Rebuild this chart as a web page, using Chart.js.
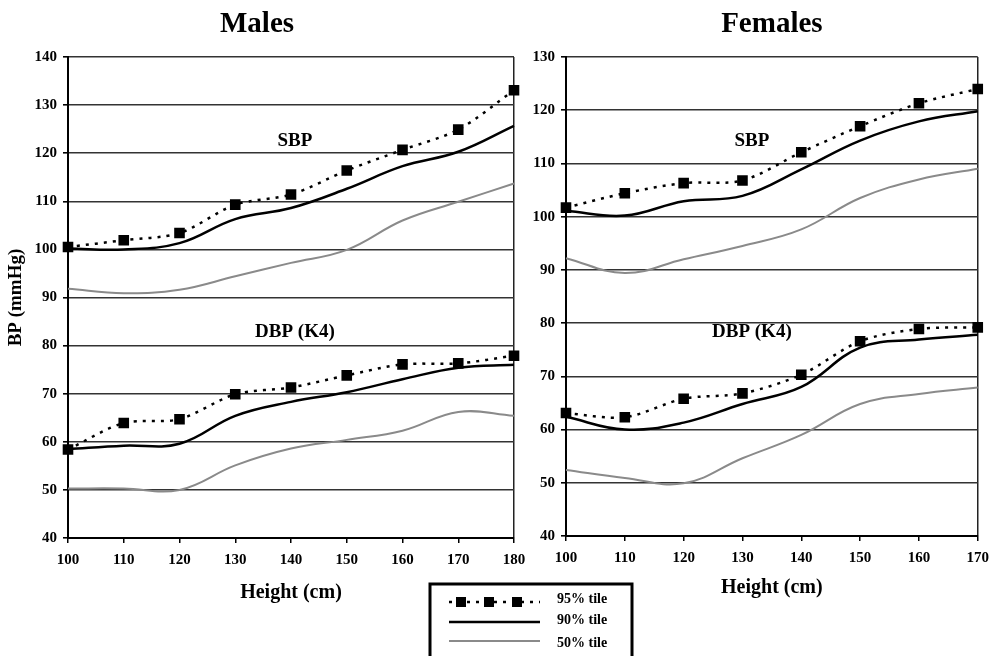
<!DOCTYPE html>
<html lang="en">
<head>
<meta charset="UTF-8">
<title>BP percentiles by height</title>
<script src="https://cdn.jsdelivr.net/npm/chart.js"></script>
<style>
    body {
        margin: 0;
        background: #fff;
    }
    .wrap {
        position: relative;
        width: 997px;
        height: 656px;
        overflow: hidden;
    }
    canvas {
        position: absolute;
        top: 0;
    }
    #males { left: 0; }
    #females { left: 420px; }
</style>
</head>
<body>
<div class="wrap">
    <canvas id="males" width="540" height="656"></canvas>
    <canvas id="females" width="577" height="656"></canvas>
</div>

<script>
    // Height (cm) on the x axis
    const maleHeights = [100, 110, 120, 130, 140, 150, 160, 170, 180];
    const femaleHeights = [100, 110, 120, 130, 140, 150, 160, 170];

    // Males, systolic and diastolic (mmHg)
    const maleSbp95 = [100.5, 101.9, 103.4, 109.3, 111.4, 116.4, 120.7, 124.9, 133.1];
    const maleSbp90 = [100.2, 100.0, 101.3, 106.3, 108.6, 112.6, 117.3, 120.3, 125.7];
    const maleSbp50 = [91.8, 90.9, 91.6, 94.4, 97.2, 99.9, 106.0, 109.9, 113.7];
    const maleDbp95 = [58.4, 63.9, 64.7, 69.9, 71.3, 73.8, 76.1, 76.3, 77.9];
    const maleDbp90 = [58.5, 59.2, 59.6, 65.4, 68.3, 70.3, 73.0, 75.4, 76.0];
    const maleDbp50 = [50.3, 50.3, 50.0, 55.1, 58.6, 60.4, 62.3, 66.2, 65.4];

    // Females, systolic and diastolic (mmHg)
    const femaleSbp95 = [101.7, 104.4, 106.3, 106.8, 112.1, 117.0, 121.3, 124.0];
    const femaleSbp90 = [101.1, 100.2, 102.9, 103.9, 108.9, 114.3, 117.9, 119.8];
    const femaleSbp50 = [92.2, 89.4, 92.0, 94.5, 97.6, 103.5, 107.0, 109.0];
    const femaleDbp95 = [63.1, 62.3, 65.8, 66.8, 70.3, 76.6, 78.9, 79.2];
    const femaleDbp90 = [62.4, 60.0, 61.3, 64.8, 68.0, 75.4, 76.9, 77.8];
    const femaleDbp50 = [52.4, 50.9, 49.9, 54.6, 59.0, 64.8, 66.7, 67.9];

    const percentileLabels = ['95% tile', '90% tile', '50% tile'];

    const serif = "'Liberation Serif', 'Times New Roman', serif";
    Chart.defaults.font.family = serif;
    Chart.defaults.color = '#000';

    // one look per percentile
    const styles = [
        { borderColor: '#000', borderWidth: 2.5, borderDash: [3, 6], pointStyle: 'rect',
          pointRadius: 7.5, pointBackgroundColor: '#000', pointBorderWidth: 0, tension: 0.3 },
        { borderColor: '#000', borderWidth: 2.5, pointRadius: 0, tension: 0.4 },
        { borderColor: '#8a8a8a', borderWidth: 2, pointRadius: 0, tension: 0.4 }
    ];

    function buildDatasets(groups) {
        const sets = [];
        groups.forEach(group => {
            group.forEach((values, i) => {
                sets.push(Object.assign({ label: percentileLabels[i], data: values, fill: false }, styles[i]));
            });
        });
        return sets;
    }

    // SBP / DBP captions, placed in data units
    const notesPlugin = {
        id: 'panelNotes',
        afterDatasetsDraw(chart, args, opts) {
            const { ctx, scales: { x, y } } = chart;
            const start = chart.data.labels[0];
            ctx.save();
            ctx.font = 'bold 19px ' + serif;
            ctx.fillStyle = '#000';
            ctx.textAlign = 'center';
            ctx.textBaseline = 'middle';
            (opts.notes || []).forEach(n => {
                ctx.fillText(n.text, x.getPixelForValue((n.x - start) / 10), y.getPixelForValue(n.y));
            });
            ctx.restore();
        }
    };

    // boxed key under the panels
    const keyPlugin = {
        id: 'percentileKey',
        afterDraw(chart, args, opts) {
            if (!opts.show) return;
            const ctx = chart.ctx;
            const { left, top, width } = opts;
            const lineRows = [18, 38, 57];
            const textRows = [15, 36, 59];
            ctx.save();
            ctx.strokeStyle = '#000';
            ctx.lineWidth = 3;
            ctx.strokeRect(left, top, width, 90);
            chart.data.datasets.slice(0, 3).forEach((ds, i) => {
                const rowY = top + lineRows[i];
                ctx.beginPath();
                ctx.setLineDash(ds.borderDash || []);
                ctx.lineWidth = ds.borderWidth;
                ctx.strokeStyle = ds.borderColor;
                ctx.moveTo(left + 19, rowY);
                ctx.lineTo(left + 110, rowY);
                ctx.stroke();
                ctx.setLineDash([]);
                if (ds.pointRadius) {
                    ctx.fillStyle = ds.pointBackgroundColor;
                    [31, 59, 87].forEach(dx => ctx.fillRect(left + dx - 5, rowY - 5, 10, 10));
                }
                ctx.fillStyle = '#000';
                ctx.font = 'bold 14px ' + serif;
                ctx.textAlign = 'left';
                ctx.textBaseline = 'middle';
                ctx.fillText(ds.label, left + 127, top + textRows[i]);
            });
            ctx.restore();
        }
    };

    function makePanel(id, p) {
        const last = p.labels.length - 1;
        return new Chart(document.getElementById(id), {
            type: 'line',
            data: { labels: p.labels, datasets: buildDatasets(p.groups) },
            options: {
                responsive: false,
                animation: false,
                devicePixelRatio: 1,
                layout: { padding: p.padding },
                plugins: {
                    legend: { display: false },
                    tooltip: { enabled: false },
                    title: {
                        display: true,
                        text: p.title,
                        fullSize: p.titleFull,
                        font: { size: 29, weight: 'bold', family: serif },
                        color: '#000',
                        padding: { top: 7, bottom: 15.2 }
                    },
                    panelNotes: { notes: p.notes },
                    percentileKey: p.key || { show: false }
                },
                scales: {
                    x: {
                        offset: false,
                        afterFit: s => { s.height = p.xHeight; },
                        border: { display: true, color: '#000', width: 2 },
                        grid: {
                            color: c => c.index === last ? '#222' : 'rgba(0,0,0,0)',
                            tickColor: '#000',
                            tickLength: 5,
                            lineWidth: 1.5
                        },
                        ticks: { font: { size: 15, weight: 'bold' }, padding: 8, maxRotation: 0 },
                        title: {
                            display: true,
                            text: 'Height (cm)',
                            font: { size: 20, weight: 'bold' },
                            padding: { top: 4, bottom: 4 }
                        }
                    },
                    y: {
                        min: 40,
                        max: p.yMax,
                        afterFit: s => { s.width = p.yWidth; },
                        border: { display: true, color: '#000', width: 2 },
                        grid: { color: '#333', lineWidth: 1.6, tickColor: '#000', tickLength: 5 },
                        ticks: { stepSize: 10, font: { size: 15, weight: 'bold' }, padding: 6 },
                        title: {
                            display: p.yTitle,
                            text: 'BP (mmHg)',
                            font: { size: 19, weight: 'bold' },
                            padding: { top: 5, bottom: 0 }
                        }
                    }
                }
            },
            plugins: [notesPlugin, keyPlugin]
        });
    }

    makePanel('males', {
        title: 'Males',
        titleFull: true,
        labels: maleHeights,
        groups: [[maleSbp95, maleSbp90, maleSbp50], [maleDbp95, maleDbp90, maleDbp50]],
        yMax: 140,
        yTitle: true,
        yWidth: 68,
        xHeight: 71,
        padding: { left: 0, right: 26, top: 0, bottom: 47 },
        notes: [{ text: 'SBP', x: 140.7, y: 122.5 }, { text: 'DBP (K4)', x: 140.7, y: 82.8 }]
    });

    makePanel('females', {
        title: 'Females',
        titleFull: false,
        labels: femaleHeights,
        groups: [[femaleSbp95, femaleSbp90, femaleSbp50], [femaleDbp95, femaleDbp90, femaleDbp50]],
        yMax: 130,
        yTitle: false,
        yWidth: 66,
        xHeight: 68,
        padding: { left: 80, right: 17, top: 0, bottom: 52 },
        notes: [{ text: 'SBP', x: 131.6, y: 114.2 }, { text: 'DBP (K4)', x: 131.6, y: 78.3 }],
        key: { show: true, left: 10, top: 584, width: 202 }
    });
</script>
</body>
</html>
